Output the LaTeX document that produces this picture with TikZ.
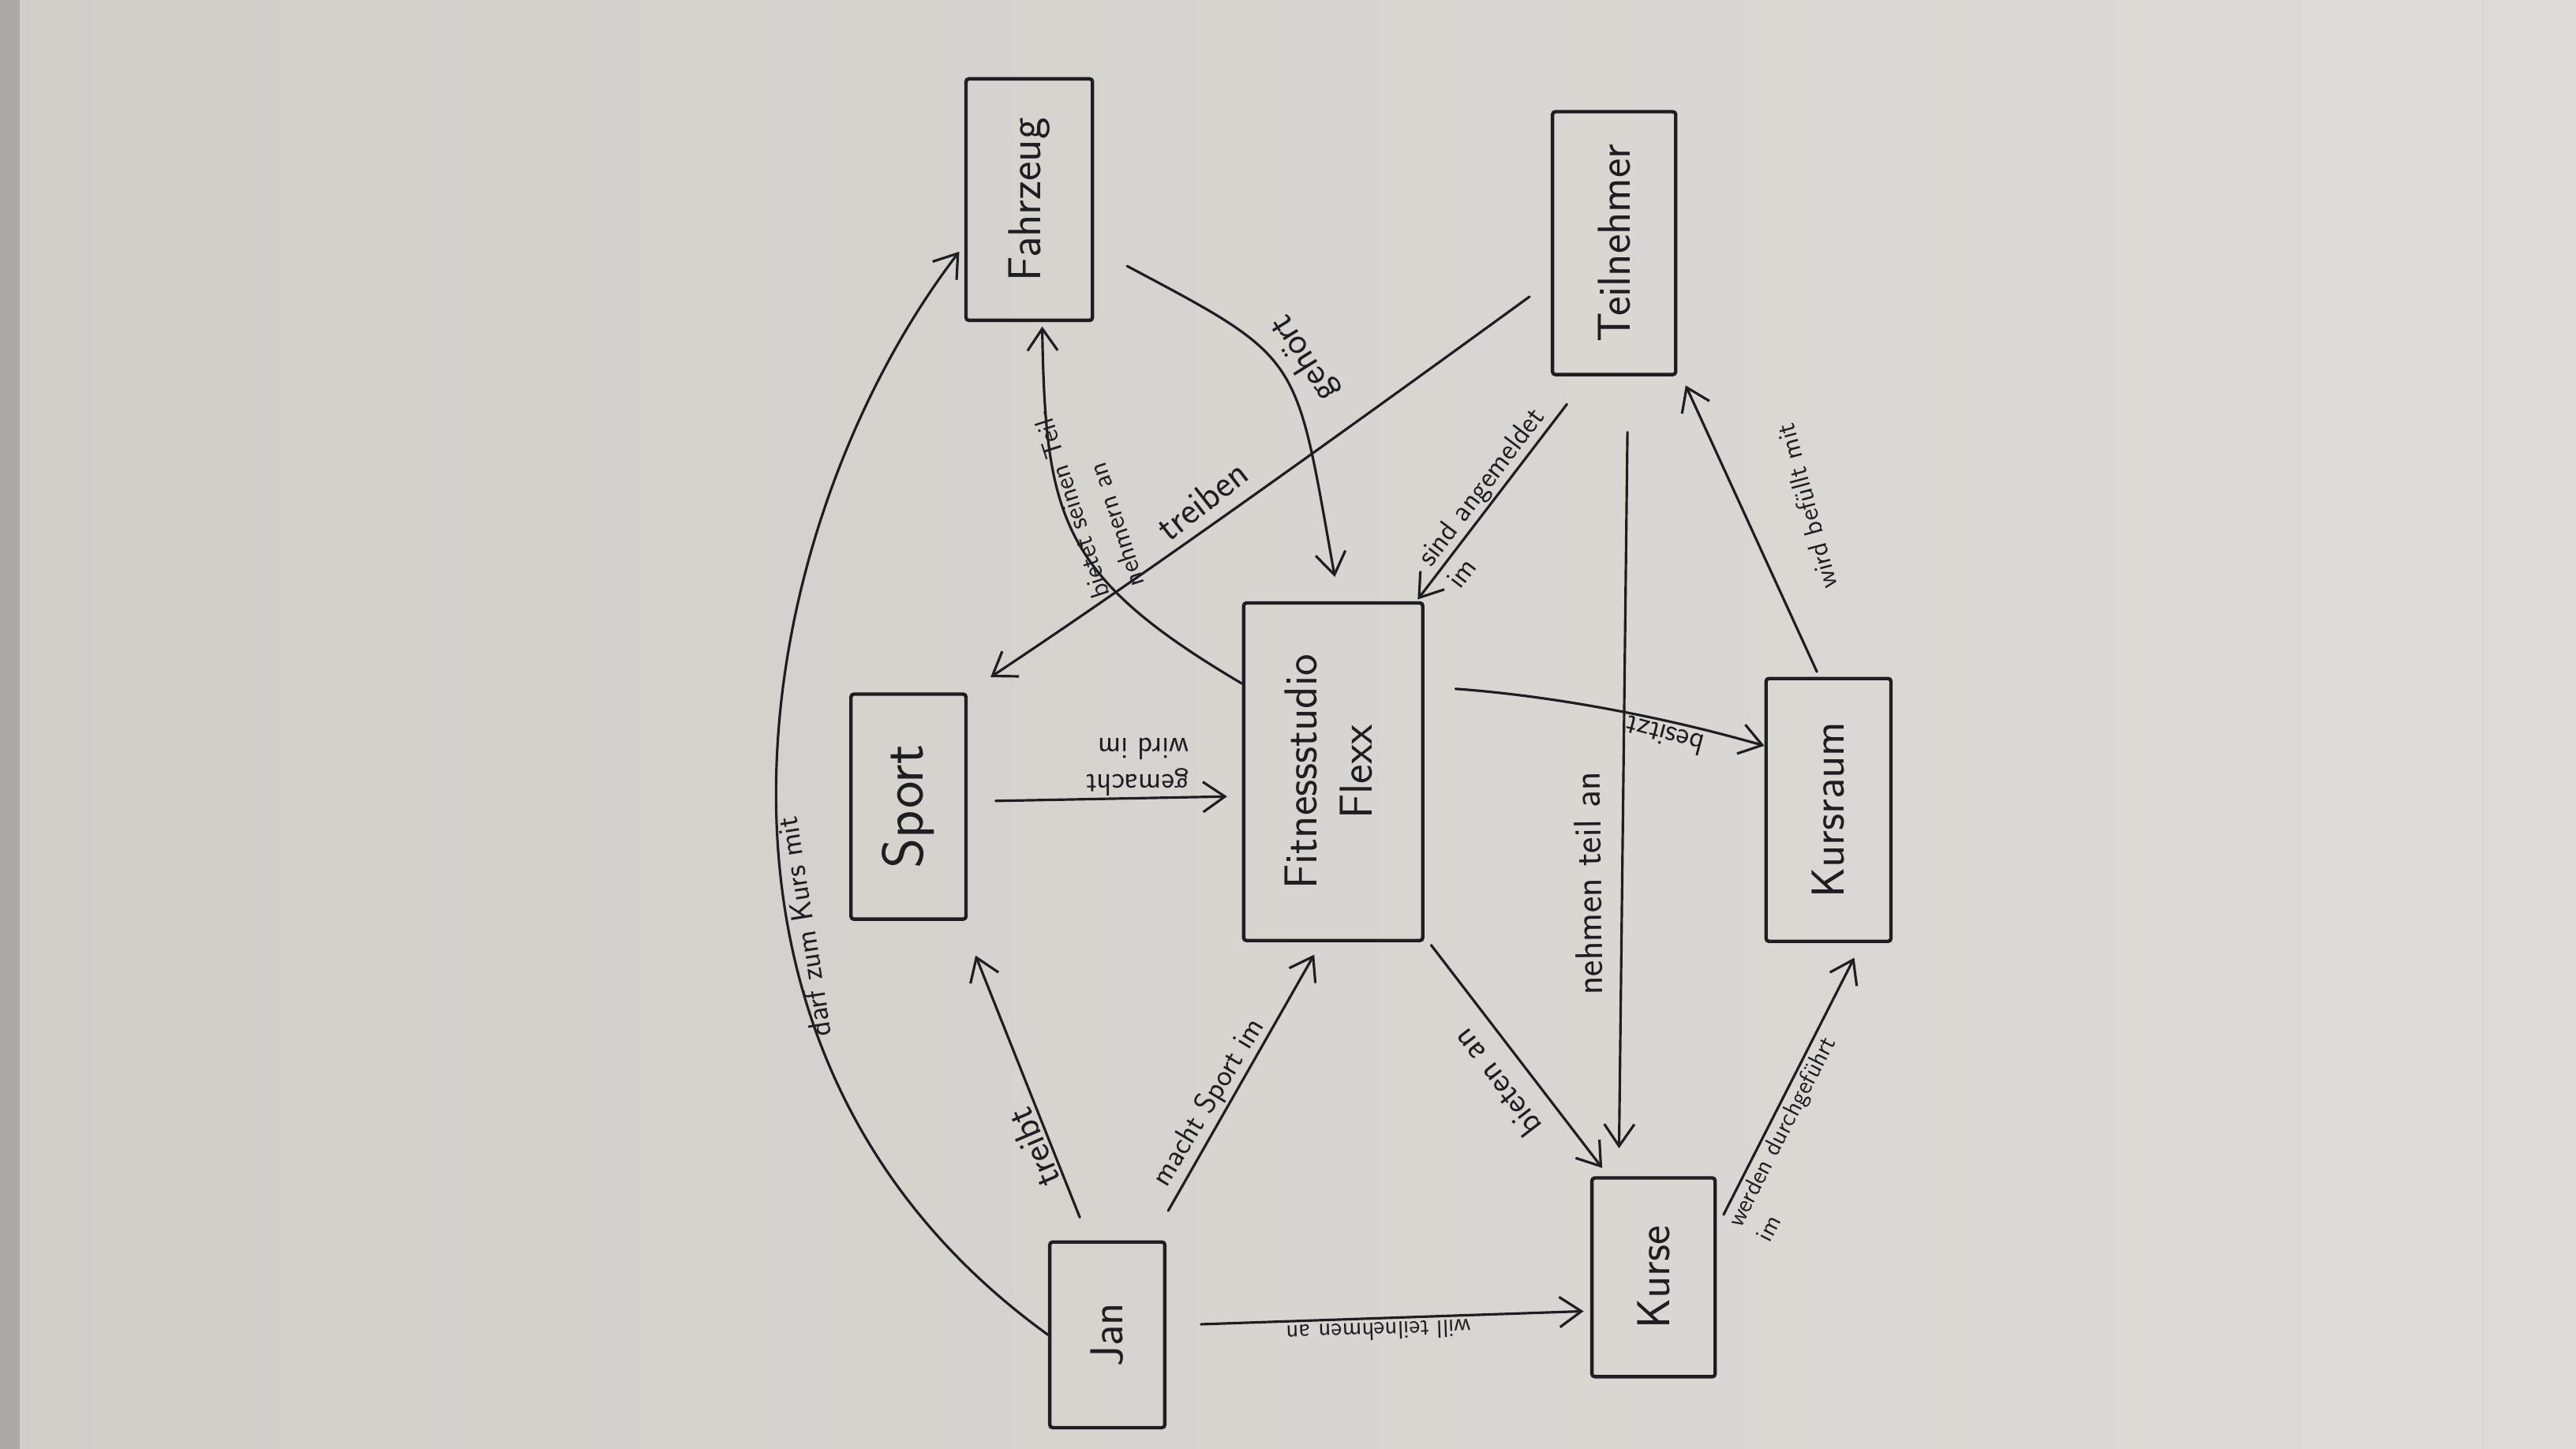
\documentclass[tikz,border=0pt]{standalone}
\usepackage{graphicx}
\usepackage{tikz}
\usetikzlibrary{arrows.meta,positioning,calc}
\definecolor{Ink}{HTML}{1E1D22}
\definecolor{PaperL}{HTML}{CFCEC9}
\definecolor{PaperR}{HTML}{DDDCD8}
\definecolor{Shadow}{HTML}{ABAAA6}
\tikzset{
  entity/.style={draw=Ink, line width=1.8pt, rounded corners=1.5pt, inner sep=0pt, text=Ink, font=\sffamily\fontsize{24}{29}\selectfont},
  arrow/.style={-{Straight Barb[length=4mm,width=5.5mm]}, line width=1.3pt, draw=Ink, line cap=round},
  rel/.style={text=Ink, inner sep=1.5pt, align=left, font=\sffamily\fontsize{16}{19}\selectfont}
}
\newcommand{\vtext}[1]{\rotatebox{90}{#1}}

\begin{document}
\begin{tikzpicture}[x=0.3mm, y=-0.3mm]
  \useasboundingbox (0,0) rectangle (1568,882);
  % paper
  \shade[left color=PaperL, right color=PaperR] (0,0) rectangle (1568,882);
  \fill[Shadow] (0,0) rectangle (12,882);

  % entities
  \node[entity, minimum width=23.1mm, minimum height=44.1mm] (fahrzeug) at (626.5,121.5) {\vtext{Fahrzeug}};
  \node[entity, minimum width=22.5mm, minimum height=48mm] (teilnehmer) at (982.5,148) {\vtext{Teilnehmer}};
  \node[entity, minimum width=21mm, minimum height=41.1mm, font=\sffamily\fontsize{30}{36}\selectfont] (sport) at (553,491) {\vtext{Sport}};
  \node[entity, minimum width=32.7mm, minimum height=61.65mm] (studio) at (811.5,469.75) {\vtext{\begin{tabular}{@{}c@{}}Fitnessstudio\\Flexx\end{tabular}}};
  \node[entity, minimum width=22.8mm, minimum height=48mm] (kursraum) at (1113,493) {\vtext{Kursraum}};
  \node[entity, minimum width=21mm, minimum height=33.9mm] (jan) at (674,812.5) {\vtext{Jan}};
  \node[entity, minimum width=22.5mm, minimum height=36.3mm] (kurse) at (1006.5,777.5) {\vtext{Kurse}};

  % relations
  \draw[arrow, shorten <=4.5mm, shorten >=6.8mm] (jan.101.4) -- node[rel, pos=.31, rotate=113, above, font=\sffamily\fontsize{20}{24}\selectfont] (lTreibt) {treibt} (sport.-65.9);
  \draw[arrow, shorten <=6.2mm, shorten >=2.6mm] (jan.65.5) -- node[rel, pos=.43, rotate=59, above=0pt] (lMacht) {macht Sport im} (studio.-94);
  \draw[arrow, shorten <=6.3mm, shorten >=1.2mm] (jan.9.2) -- node[rel, pos=.5, rotate=182, above=0pt, font=\sffamily\fontsize{13}{16}\selectfont] (lWill) {will teilnehmen an} (kurse.-152.8);
  \draw[arrow, shorten <=2mm, shorten >=1.9mm] (studio.-61.4) -- node[rel, pos=.53, shift={(217.5:3mm)}, rotate=127.5, above, font=\sffamily\fontsize{18}{22}\selectfont] (lBieten) {bieten an} (kurse.114.6);
  \draw[arrow, shorten <=2.7mm, shorten >=3mm] (kurse.38.2) -- node[rel, pos=.02, rotate=63, anchor=north west, font=\sffamily\fontsize{13}{17}\selectfont] (lWerden) {werden durchgeführt\\im} (kursraum.-76.2);
  \draw[arrow, shorten <=1mm, shorten >=3.6mm] (kursraum.94.7) -- node[rel, pos=.5, shift={(15:8.5mm)}, rotate=105, below, font=\sffamily\fontsize{14}{17}\selectfont] (lBefuellt) {wird befüllt mit} (teilnehmer.-63.7);
  \draw[arrow, shorten <=10.2mm, shorten >=5.1mm] (teilnehmer.-84.4) -- node[rel, pos=.634, shift={(-3mm,0)}, rotate=90.7, above, font=\sffamily\fontsize{20}{24}\selectfont] (lNehmen) {nehmen teil an} (kurse.109.7);
  \draw[arrow, shorten <=6.4mm, shorten >=.4mm] (teilnehmer.-101.8) -- node[rel, pos=.89, rotate=53, anchor=west, font=\sffamily\fontsize{15}{19}\selectfont] (lAngemeldet) {sind angemeldet\\im} (studio.64.2);
  \draw[arrow, shorten <=4.8mm, shorten >=5mm] (teilnehmer.211) .. controls +(-220,160) and +(60,-40) .. node[rel, pos=.4, shift={(128:1.5mm)}, rotate=38, above, font=\sffamily\fontsize{20}{24}\selectfont] (lTreiben) {treiben} (sport.north east);
  \draw[arrow, shorten >=.8mm] (studio.136.5) .. controls +(-110,-65) and +(2,120) .. node[rel, pos=.3, rotate=108, anchor=west, font=\sffamily\fontsize{14}{19}\selectfont] (lBietet) {bietet seinen Teil-\\nehmern an} (fahrzeug.-84.2);
  \draw[arrow, shorten <=6.8mm, shorten >=4.5mm] (fahrzeug.-37.6) .. controls +(128,68) and +(-27,-151) .. node[rel, pos=.5, shift={(32:1.5mm)}, rotate=122, below, font=\sffamily\fontsize{20}{24}\selectfont] (lGehoert) {gehört} (studio.88);
  \draw[arrow, shorten <=5.7mm] (studio.43.5) .. controls +(70,5) and +(-70,-20) .. node[rel, pos=.72, rotate=165, above=0pt] (lBesitzt) {besitzt} (kursraum.135.8);
  \draw[arrow, shorten <=5.1mm, shorten >=2.7mm] (sport.5.2) -- node[rel, pos=.62, rotate=180, below=1pt] (lGemacht) {gemacht\\wird im} (studio.-165.3);
  \draw[arrow, shorten >=1.5mm] (jan.west) .. controls +(-244,-176) and +(-128,167) .. node[rel, pos=.38, rotate=99, below] (lDarf) {darf zum Kurs mit} (fahrzeug.215);
\end{tikzpicture}
\end{document}
